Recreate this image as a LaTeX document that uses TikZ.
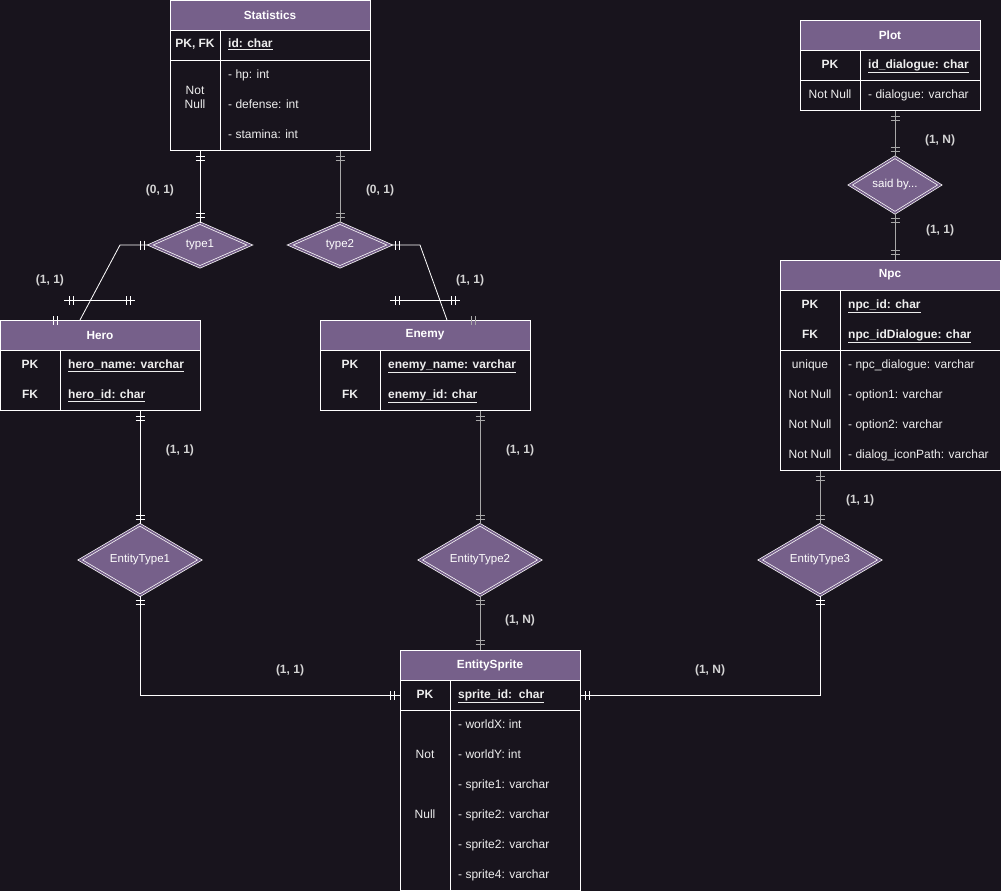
\documentclass[tikz,border=0pt]{standalone}
\usepackage{fontspec}
\setmainfont{Liberation Sans}
\usetikzlibrary{positioning,shapes.geometric,decorations.markings}

\definecolor{bgdark}{HTML}{18141D}
\definecolor{hdrpurple}{HTML}{76608A}
\definecolor{linegray}{HTML}{A8A8A8}
\definecolor{labelgray}{HTML}{D4D4D4}
\definecolor{txtwhite}{HTML}{EEEEEE}
\newcommand\bodyfont{\fontsize{12}{14}\selectfont}

\tikzset{
  head/.style={draw=white, fill=hdrpurple, text=white, line width=0.8pt,
    font=\fontsize{11.8}{14}\selectfont\bfseries, minimum height=30pt, inner sep=0pt},
  body/.style={draw=white, fill=bgdark, line width=0.8pt, inner sep=0pt},
  divider/.style={draw=white, line width=0.8pt},
  keycol/.style={text=txtwhite, font=\bodyfont\bfseries, inner sep=0pt, text height=8.5pt, text depth=2.5pt},
  plaincol/.style={text=txtwhite, font=\bodyfont, inner sep=0pt, text height=8.5pt, text depth=2.5pt},
  keyfield/.style={keycol, anchor=west},
  field/.style={plaincol, anchor=west},
  rel/.style={diamond, draw=white, double=hdrpurple, double distance=1.6pt, fill=hdrpurple,
    line width=0.7pt, text=white, font=\fontsize{11.5}{13}\selectfont, inner sep=0pt},
  lbl/.style={text=labelgray, font=\bodyfont\bfseries, inner sep=0pt},
  conn/.style={draw=white, color=white, line width=0.8pt},
  bars/.style={postaction={decorate, decoration={markings,
    mark=at position #1 with {\draw[line width=0.8pt] (0,-4.5pt) -- (0,4.5pt);}}}},
  one start/.style={bars=5pt, bars=9pt},
  one end/.style={bars=-5pt, bars=-9pt}
}

\begin{document}
\begin{tikzpicture}[x=1pt, y=-1pt]
    \fill[bgdark] (0,0) rectangle (1001,891);
    \useasboundingbox (0,0) rectangle (1001,891);

    \node[head, minimum width=200pt] (stat_head) at (270,15) {Statistics};
    \node[body, minimum width=200pt, minimum height=120pt, below=0pt of stat_head] (stat_body) {};
    \draw[divider] (220,30) -- (220,150);
    \draw[divider] (170,60) -- (370,60);
    \node[keycol] (stat_pk) at (195,45) {PK, FK};
    \node[keyfield] (stat_id) at (228,45) {\underline{id: char}};
    \node[plaincol, align=center] (stat_nn) at (195,105) {Not\\Null};
    \foreach \txt [count=\i] in {- hp: int, - defense: int, - stamina: int}
      \node[field] (stat_f\i) at (228,{45+30*\i}) {\txt};

    \node[head, minimum width=180pt] (plot_head) at (890,35) {Plot};
    \node[body, minimum width=180pt, minimum height=60pt, below=0pt of plot_head] (plot_body) {};
    \draw[divider] (860,50) -- (860,110);
    \draw[divider] (800,80) -- (980,80);
    \node[keycol] (plot_pk) at (830,65) {PK};
    \node[keyfield] (plot_id) at (868,65) {\underline{id\_dialogue: char}};
    \node[plaincol] (plot_nn) at (830,95) {Not Null};
    \node[field] (plot_f1) at (868,95) {- dialogue: varchar};

    \node[head, minimum width=220pt] (npc_head) at (890,275) {Npc};
    \node[body, minimum width=220pt, minimum height=180pt, below=0pt of npc_head] (npc_body) {};
    \draw[divider] (840,290) -- (840,470);
    \draw[divider] (780,350) -- (1000,350);
    \node[keycol] (npc_pk) at (810,305) {PK};
    \node[keycol] (npc_fk) at (810,335) {FK};
    \node[keyfield] (npc_id) at (848,305) {\underline{npc\_id: char}};
    \node[keyfield] (npc_iddlg) at (848,335) {\underline{npc\_idDialogue: char}};
    \foreach \txt [count=\i] in {unique, Not Null, Not Null, Not Null}
      \node[plaincol] (npc_c\i) at (810,{335+30*\i}) {\txt};
    \foreach \txt [count=\i] in {- npc\_dialogue: varchar, - option1: varchar, - option2: varchar, - dialog\_iconPath: varchar}
      \node[field] (npc_f\i) at (848,{335+30*\i}) {\txt};

    \node[head, minimum width=200pt] (hero_head) at (100,335) {Hero};
    \node[body, minimum width=200pt, minimum height=60pt, below=0pt of hero_head] (hero_body) {};
    \draw[divider] (60,350) -- (60,410);
    \node[keycol] (hero_pk) at (30,365) {PK};
    \node[keycol] (hero_fk) at (30,395) {FK};
    \node[keyfield] (hero_name) at (68,365) {\underline{hero\_name: varchar}};
    \node[keyfield] (hero_id) at (68,395) {\underline{hero\_id: char}};

    \node[head, minimum width=210pt] (enemy_head) at (425,335) {Enemy};
    \node[body, minimum width=210pt, minimum height=60pt, below=0pt of enemy_head] (enemy_body) {};
    \draw[divider] (380,350) -- (380,410);
    \node[keycol] (enemy_pk) at (350,365) {PK};
    \node[keycol] (enemy_fk) at (350,395) {FK};
    \node[keyfield] (enemy_name) at (388,365) {\underline{enemy\_name: varchar}};
    \node[keyfield] (enemy_id) at (388,395) {\underline{enemy\_id: char}};

    \node[head, minimum width=180pt] (es_head) at (490,665) {EntitySprite};
    \node[body, minimum width=180pt, minimum height=210pt, below=0pt of es_head] (es_body) {};
    \draw[divider] (450,680) -- (450,890);
    \draw[divider] (400,710) -- (580,710);
    \node[keycol] (es_pk) at (425,695) {PK};
    \node[keyfield] (es_id) at (458,695) {\underline{sprite\_id:\ \ char}};
    \node[plaincol] (es_not) at (425,755) {Not};
    \node[plaincol] (es_null) at (425,815) {Null};
    \foreach \txt [count=\i] in {- worldX: int, - worldY: int, - sprite1: varchar, - sprite2: varchar, - sprite2: varchar, - sprite4: varchar}
      \node[field] (es_f\i) at (458,{695+30*\i}) {\txt};

    \node[rel, minimum width=100pt, minimum height=44pt] (type1) at (200,245) {type1};
    \node[rel, minimum width=100pt, minimum height=44pt] (type2) at (340,245) {type2};
    \node[rel, minimum width=90pt, minimum height=50pt] (saidby) at (895,185) {said by...};
    \node[rel, minimum width=120pt, minimum height=60pt] (et1) at (140,560) {EntityType1};
    \node[rel, minimum width=120pt, minimum height=60pt] (et2) at (480,560) {EntityType2};
    \node[rel, minimum width=120pt, minimum height=60pt] (et3) at (820,560) {EntityType3};

    \coordinate (t1_bend) at (120,245);
    \coordinate (t1_foot) at (80,320);
    \coordinate (t1_cross_a) at (64,300);
    \coordinate (t1_cross_b) at (135,300);
    \coordinate (hero_mark_a) at (40,320);
    \coordinate (hero_mark_b) at (62,320);
    \coordinate (t2_bend) at (420,245);
    \coordinate (t2_foot) at (447,320);
    \coordinate (t2_cross_a) at (390,300);
    \coordinate (t2_cross_b) at (460,300);
    \coordinate (enemy_mark_a) at (450,320);
    \coordinate (enemy_mark_b) at (480,320);
    \coordinate (es_left) at ([yshift=-15pt]es_body.north west);
    \coordinate (es_right) at ([yshift=-15pt]es_body.north east);

    \draw[conn, one start, one end] (stat_body.south -| type1.north) -- (type1.north);
    \draw[conn, color=linegray, one start, one end] (stat_body.south -| type2.north) -- (type2.north);
    \draw[conn, one start] (type1.west) -- (t1_bend) -- (t1_foot);
    \draw[conn, one start, one end] (t1_cross_a) -- (t1_cross_b);
    \path[color=white, line width=0.8pt, one end] (hero_mark_a) -- (hero_mark_b);
    \draw[conn, one start] (type2.east) -- (t2_bend) -- (t2_foot);
    \draw[conn, one start, one end] (t2_cross_a) -- (t2_cross_b);
    \path[color=linegray, line width=0.8pt, one end] (enemy_mark_a) -- (enemy_mark_b);
    \draw[conn, one start, one end] (hero_body.south -| et1.north) -- (et1.north);
    \draw[conn, one start, one end] (et1.south) |- (es_left);
    \draw[conn, color=linegray, one start, one end] (enemy_body.south -| et2.north) -- (et2.north);
    \draw[conn, color=linegray, one start, one end] (et2.south) -- (es_head.north -| et2.south);
    \draw[conn, color=linegray, one start, one end] (npc_body.south -| et3.north) -- (et3.north);
    \draw[conn, one start, one end] (et3.south) |- (es_right);
    \draw[conn, color=linegray, one start, one end] (plot_body.south -| saidby.north) -- (saidby.north);
    \draw[conn, color=linegray, one start, one end] (saidby.south) -- (npc_head.north -| saidby.south);

    \node[lbl] (lbl_stat_t1) at (160,190) {(0, 1)};
    \node[lbl] (lbl_stat_t2) at (380,190) {(0, 1)};
    \node[lbl] (lbl_t1_hero) at (50,280) {(1, 1)};
    \node[lbl] (lbl_t2_enemy) at (470,280) {(1, 1)};
    \node[lbl] (lbl_hero_et1) at (180,450) {(1, 1)};
    \node[lbl] (lbl_enemy_et2) at (520,450) {(1, 1)};
    \node[lbl] (lbl_et1_es) at (290,670) {(1, 1)};
    \node[lbl] (lbl_et2_es) at (520,620) {(1, N)};
    \node[lbl] (lbl_et3_es) at (710,670) {(1, N)};
    \node[lbl] (lbl_npc_et3) at (860,500) {(1, 1)};
    \node[lbl] (lbl_plot_said) at (940,140) {(1, N)};
    \node[lbl] (lbl_said_npc) at (940,230) {(1, 1)};
\end{tikzpicture}
\end{document}
